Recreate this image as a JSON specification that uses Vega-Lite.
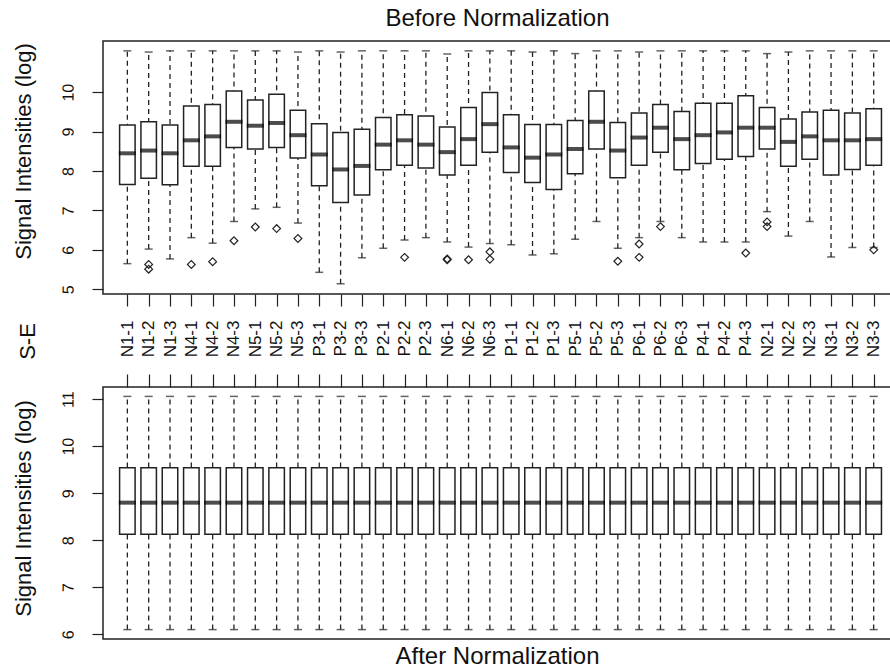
{
  "$schema": "https://vega.github.io/schema/vega-lite/v6.json",
  "background": "white",
  "padding": {"left": 11, "top": 6, "right": 0, "bottom": 0},
  "spacing": 93,
  "bounds": "flush",
  "resolve": {"scale": {"x": "independent", "y": "independent"}, "axis": {"x": "independent", "y": "independent"}},
  "config": {
    "font": "Liberation Sans",
    "view": {"stroke": "#222", "strokeWidth": 1.5},
    "axis": {"grid": false, "domain": false, "tickColor": "#222", "tickWidth": 1.2, "labelColor": "#111", "titleColor": "#111", "labelFont": "Liberation Sans", "titleFont": "Liberation Sans", "titleFontWeight": "normal"},
    "axisY": {"labelAngle": 270.5, "labelAlign": "center", "labelBaseline": "bottom", "labelPadding": 16, "tickSize": 11, "labelFontSize": 16, "titleFontSize": 22, "titleAngle": 270, "titleX": -80, "titleAlign": "center", "titleBaseline": "middle"},
    "title": {"font": "Liberation Sans", "fontWeight": "normal", "fontSize": 24, "color": "#111"}
  },
  "datasets": {
    "before": [
      {"sample": "N1-1", "lo": 5.65, "q1": 7.66, "med": 8.45, "q3": 9.17, "hi": 11.05},
      {"sample": "N1-2", "lo": 6.02, "q1": 7.82, "med": 8.52, "q3": 9.25, "hi": 11.02},
      {"sample": "N1-3", "lo": 5.77, "q1": 7.65, "med": 8.45, "q3": 9.17, "hi": 11.05},
      {"sample": "N4-1", "lo": 6.31, "q1": 8.12, "med": 8.78, "q3": 9.65, "hi": 11.05},
      {"sample": "N4-2", "lo": 6.17, "q1": 8.12, "med": 8.88, "q3": 9.69, "hi": 11.05},
      {"sample": "N4-3", "lo": 6.72, "q1": 8.60, "med": 9.25, "q3": 10.03, "hi": 11.05},
      {"sample": "N5-1", "lo": 7.04, "q1": 8.56, "med": 9.15, "q3": 9.80, "hi": 11.05},
      {"sample": "N5-2", "lo": 7.08, "q1": 8.60, "med": 9.22, "q3": 9.95, "hi": 11.05},
      {"sample": "N5-3", "lo": 6.68, "q1": 8.33, "med": 8.91, "q3": 9.54, "hi": 11.02},
      {"sample": "P3-1", "lo": 5.43, "q1": 7.63, "med": 8.42, "q3": 9.20, "hi": 11.05},
      {"sample": "P3-2", "lo": 5.14, "q1": 7.20, "med": 8.04, "q3": 8.98, "hi": 11.02},
      {"sample": "P3-3", "lo": 5.80, "q1": 7.39, "med": 8.13, "q3": 9.06, "hi": 11.05},
      {"sample": "P2-1", "lo": 6.04, "q1": 8.03, "med": 8.67, "q3": 9.36, "hi": 11.05},
      {"sample": "P2-2", "lo": 6.25, "q1": 8.15, "med": 8.78, "q3": 9.43, "hi": 11.05},
      {"sample": "P2-3", "lo": 6.31, "q1": 8.08, "med": 8.67, "q3": 9.40, "hi": 11.05},
      {"sample": "N6-1", "lo": 6.20, "q1": 7.90, "med": 8.48, "q3": 9.12, "hi": 10.97},
      {"sample": "N6-2", "lo": 6.07, "q1": 8.15, "med": 8.81, "q3": 9.61, "hi": 11.05},
      {"sample": "N6-3", "lo": 6.16, "q1": 8.48, "med": 9.19, "q3": 9.99, "hi": 11.05},
      {"sample": "P1-1", "lo": 6.13, "q1": 7.96, "med": 8.60, "q3": 9.43, "hi": 11.05},
      {"sample": "P1-2", "lo": 5.87, "q1": 7.71, "med": 8.34, "q3": 9.18, "hi": 11.02},
      {"sample": "P1-3", "lo": 5.90, "q1": 7.53, "med": 8.42, "q3": 9.18, "hi": 11.05},
      {"sample": "P5-1", "lo": 6.27, "q1": 7.93, "med": 8.56, "q3": 9.28, "hi": 10.98},
      {"sample": "P5-2", "lo": 6.72, "q1": 8.56, "med": 9.25, "q3": 10.03, "hi": 11.05},
      {"sample": "P5-3", "lo": 6.04, "q1": 7.83, "med": 8.52, "q3": 9.23, "hi": 11.05},
      {"sample": "P6-1", "lo": 6.31, "q1": 8.15, "med": 8.85, "q3": 9.47, "hi": 11.02},
      {"sample": "P6-2", "lo": 6.72, "q1": 8.48, "med": 9.10, "q3": 9.69, "hi": 11.05},
      {"sample": "P6-3", "lo": 6.31, "q1": 8.03, "med": 8.81, "q3": 9.51, "hi": 11.05},
      {"sample": "P4-1", "lo": 6.20, "q1": 8.19, "med": 8.91, "q3": 9.72, "hi": 11.05},
      {"sample": "P4-2", "lo": 6.20, "q1": 8.30, "med": 8.98, "q3": 9.72, "hi": 11.05},
      {"sample": "P4-3", "lo": 6.20, "q1": 8.37, "med": 9.10, "q3": 9.91, "hi": 11.05},
      {"sample": "N2-1", "lo": 6.97, "q1": 8.56, "med": 9.10, "q3": 9.61, "hi": 10.98},
      {"sample": "N2-2", "lo": 6.35, "q1": 8.12, "med": 8.74, "q3": 9.32, "hi": 11.02},
      {"sample": "N2-3", "lo": 6.72, "q1": 8.30, "med": 8.88, "q3": 9.50, "hi": 11.05},
      {"sample": "N3-1", "lo": 5.82, "q1": 7.90, "med": 8.78, "q3": 9.54, "hi": 11.05},
      {"sample": "N3-2", "lo": 6.06, "q1": 8.04, "med": 8.78, "q3": 9.47, "hi": 11.05},
      {"sample": "N3-3", "lo": 6.06, "q1": 8.15, "med": 8.81, "q3": 9.58, "hi": 11.05}
    ],
    "outliers": [
      {"sample": "N1-2", "value": 5.63},
      {"sample": "N1-2", "value": 5.51},
      {"sample": "N4-1", "value": 5.63},
      {"sample": "N4-2", "value": 5.70},
      {"sample": "N4-3", "value": 6.23},
      {"sample": "N5-1", "value": 6.58},
      {"sample": "N5-2", "value": 6.54},
      {"sample": "N5-3", "value": 6.29},
      {"sample": "P2-2", "value": 5.81},
      {"sample": "N6-1", "value": 5.77},
      {"sample": "N6-1", "value": 5.75},
      {"sample": "N6-2", "value": 5.75},
      {"sample": "N6-3", "value": 5.95},
      {"sample": "N6-3", "value": 5.76},
      {"sample": "P5-3", "value": 5.71},
      {"sample": "P6-1", "value": 6.15},
      {"sample": "P6-1", "value": 5.81},
      {"sample": "P6-2", "value": 6.59},
      {"sample": "P4-3", "value": 5.92},
      {"sample": "N2-1", "value": 6.71},
      {"sample": "N2-1", "value": 6.59},
      {"sample": "N3-3", "value": 6.00}
    ],
    "after": [
      {"sample": "N1-1", "lo": 6.10, "q1": 8.13, "med": 8.80, "q3": 9.54, "hi": 11.06},
      {"sample": "N1-2", "lo": 6.10, "q1": 8.13, "med": 8.80, "q3": 9.54, "hi": 11.06},
      {"sample": "N1-3", "lo": 6.10, "q1": 8.13, "med": 8.80, "q3": 9.54, "hi": 11.06},
      {"sample": "N4-1", "lo": 6.10, "q1": 8.13, "med": 8.80, "q3": 9.54, "hi": 11.06},
      {"sample": "N4-2", "lo": 6.10, "q1": 8.13, "med": 8.80, "q3": 9.54, "hi": 11.06},
      {"sample": "N4-3", "lo": 6.10, "q1": 8.13, "med": 8.80, "q3": 9.54, "hi": 11.06},
      {"sample": "N5-1", "lo": 6.10, "q1": 8.13, "med": 8.80, "q3": 9.54, "hi": 11.06},
      {"sample": "N5-2", "lo": 6.10, "q1": 8.13, "med": 8.80, "q3": 9.54, "hi": 11.06},
      {"sample": "N5-3", "lo": 6.10, "q1": 8.13, "med": 8.80, "q3": 9.54, "hi": 11.06},
      {"sample": "P3-1", "lo": 6.10, "q1": 8.13, "med": 8.80, "q3": 9.54, "hi": 11.06},
      {"sample": "P3-2", "lo": 6.10, "q1": 8.13, "med": 8.80, "q3": 9.54, "hi": 11.06},
      {"sample": "P3-3", "lo": 6.10, "q1": 8.13, "med": 8.80, "q3": 9.54, "hi": 11.06},
      {"sample": "P2-1", "lo": 6.10, "q1": 8.13, "med": 8.80, "q3": 9.54, "hi": 11.06},
      {"sample": "P2-2", "lo": 6.10, "q1": 8.13, "med": 8.80, "q3": 9.54, "hi": 11.06},
      {"sample": "P2-3", "lo": 6.10, "q1": 8.13, "med": 8.80, "q3": 9.54, "hi": 11.06},
      {"sample": "N6-1", "lo": 6.10, "q1": 8.13, "med": 8.80, "q3": 9.54, "hi": 11.06},
      {"sample": "N6-2", "lo": 6.10, "q1": 8.13, "med": 8.80, "q3": 9.54, "hi": 11.06},
      {"sample": "N6-3", "lo": 6.10, "q1": 8.13, "med": 8.80, "q3": 9.54, "hi": 11.06},
      {"sample": "P1-1", "lo": 6.10, "q1": 8.13, "med": 8.80, "q3": 9.54, "hi": 11.06},
      {"sample": "P1-2", "lo": 6.10, "q1": 8.13, "med": 8.80, "q3": 9.54, "hi": 11.06},
      {"sample": "P1-3", "lo": 6.10, "q1": 8.13, "med": 8.80, "q3": 9.54, "hi": 11.06},
      {"sample": "P5-1", "lo": 6.10, "q1": 8.13, "med": 8.80, "q3": 9.54, "hi": 11.06},
      {"sample": "P5-2", "lo": 6.10, "q1": 8.13, "med": 8.80, "q3": 9.54, "hi": 11.06},
      {"sample": "P5-3", "lo": 6.10, "q1": 8.13, "med": 8.80, "q3": 9.54, "hi": 11.06},
      {"sample": "P6-1", "lo": 6.10, "q1": 8.13, "med": 8.80, "q3": 9.54, "hi": 11.06},
      {"sample": "P6-2", "lo": 6.10, "q1": 8.13, "med": 8.80, "q3": 9.54, "hi": 11.06},
      {"sample": "P6-3", "lo": 6.10, "q1": 8.13, "med": 8.80, "q3": 9.54, "hi": 11.06},
      {"sample": "P4-1", "lo": 6.10, "q1": 8.13, "med": 8.80, "q3": 9.54, "hi": 11.06},
      {"sample": "P4-2", "lo": 6.10, "q1": 8.13, "med": 8.80, "q3": 9.54, "hi": 11.06},
      {"sample": "P4-3", "lo": 6.10, "q1": 8.13, "med": 8.80, "q3": 9.54, "hi": 11.06},
      {"sample": "N2-1", "lo": 6.10, "q1": 8.13, "med": 8.80, "q3": 9.54, "hi": 11.06},
      {"sample": "N2-2", "lo": 6.10, "q1": 8.13, "med": 8.80, "q3": 9.54, "hi": 11.06},
      {"sample": "N2-3", "lo": 6.10, "q1": 8.13, "med": 8.80, "q3": 9.54, "hi": 11.06},
      {"sample": "N3-1", "lo": 6.10, "q1": 8.13, "med": 8.80, "q3": 9.54, "hi": 11.06},
      {"sample": "N3-2", "lo": 6.10, "q1": 8.13, "med": 8.80, "q3": 9.54, "hi": 11.06},
      {"sample": "N3-3", "lo": 6.10, "q1": 8.13, "med": 8.80, "q3": 9.54, "hi": 11.06}
    ]
  },
  "vconcat": [
    {
      "width": 789,
      "height": 253,
      "title": {"text": "Before Normalization", "offset": 10},
      "encoding": {
        "x": {
          "field": "sample", "type": "nominal", "sort": null,
          "scale": {"type": "point", "padding": 1.784, "align": 0.571,
            "domain": ["N1-1","N1-2","N1-3","N4-1","N4-2","N4-3","N5-1","N5-2","N5-3","P3-1","P3-2","P3-3","P2-1","P2-2","P2-3","N6-1","N6-2","N6-3","P1-1","P1-2","P1-3","P5-1","P5-2","P5-3","P6-1","P6-2","P6-3","P4-1","P4-2","P4-3","N2-1","N2-2","N2-3","N3-1","N3-2","N3-3"]},
          "axis": {"orient": "bottom", "title": "S-E", "labelAngle": 270, "labelAlign": "right", "labelBaseline": "middle", "tickSize": 12, "labelPadding": 14, "labelFontSize": 17, "labelOverlap": false, "titleFontSize": 22, "titleAngle": 270, "titleX": -76, "titleY": 47, "titleAlign": "center", "titleBaseline": "middle"}
        }
      },
      "layer": [
        {
          "data": {"name": "before"},
          "mark": {"type": "rule", "strokeDash": [5, 4], "strokeWidth": 1.3, "color": "#222"},
          "encoding": {
            "y": {"field": "lo", "type": "quantitative", "title": "Signal Intensities (log)",
              "scale": {"domain": [4.88, 11.3], "nice": false, "zero": false},
              "axis": {"values": [5, 6, 7, 8, 9, 10], "labelAngle": 270.5, "titleY": 110}},
            "y2": {"field": "hi"}
          }
        },
        {
          "data": {"name": "before"},
          "mark": {"type": "bar", "fill": "white", "stroke": "#222", "strokeWidth": 1.5, "size": 15.5},
          "encoding": {
            "y": {"field": "q1", "type": "quantitative", "title": "Signal Intensities (log)", "scale": {"domain": [4.88, 11.3], "nice": false, "zero": false},
              "axis": {"values": [5, 6, 7, 8, 9, 10], "labelAngle": 270.5, "titleY": 110}},
            "y2": {"field": "q3"}
          }
        },
        {
          "data": {"name": "before"},
          "mark": {"type": "tick", "color": "#000", "thickness": 4, "size": 17},
          "encoding": {"y": {"field": "med", "type": "quantitative", "title": "Signal Intensities (log)", "scale": {"domain": [4.88, 11.3], "nice": false, "zero": false},
            "axis": {"values": [5, 6, 7, 8, 9, 10], "labelAngle": 270.5, "titleY": 110}}}
        },
        {
          "data": {"name": "before"},
          "mark": {"type": "tick", "color": "#222", "thickness": 1.5, "size": 8},
          "encoding": {"y": {"field": "lo", "type": "quantitative", "title": "Signal Intensities (log)", "scale": {"domain": [4.88, 11.3], "nice": false, "zero": false},
            "axis": {"values": [5, 6, 7, 8, 9, 10], "labelAngle": 270.5, "titleY": 110}}}
        },
        {
          "data": {"name": "before"},
          "mark": {"type": "tick", "color": "#222", "thickness": 1.5, "size": 8},
          "encoding": {"y": {"field": "hi", "type": "quantitative", "title": "Signal Intensities (log)", "scale": {"domain": [4.88, 11.3], "nice": false, "zero": false},
            "axis": {"values": [5, 6, 7, 8, 9, 10], "labelAngle": 270.5, "titleY": 110}}}
        },
        {
          "data": {"name": "outliers"},
          "mark": {"type": "point", "shape": "diamond", "filled": false, "size": 60, "stroke": "#222", "strokeWidth": 1.2, "opacity": 1},
          "encoding": {"y": {"field": "value", "type": "quantitative", "title": "Signal Intensities (log)", "scale": {"domain": [4.88, 11.3], "nice": false, "zero": false},
            "axis": {"values": [5, 6, 7, 8, 9, 10], "labelAngle": 270.5, "titleY": 110}}}
        }
      ]
    },
    {
      "width": 789,
      "height": 252,
      "title": {"text": "After Normalization", "orient": "bottom", "offset": 6},
      "encoding": {
        "x": {
          "field": "sample", "type": "nominal", "sort": null,
          "scale": {"type": "point", "padding": 1.784, "align": 0.571,
            "domain": ["N1-1","N1-2","N1-3","N4-1","N4-2","N4-3","N5-1","N5-2","N5-3","P3-1","P3-2","P3-3","P2-1","P2-2","P2-3","N6-1","N6-2","N6-3","P1-1","P1-2","P1-3","P5-1","P5-2","P5-3","P6-1","P6-2","P6-3","P4-1","P4-2","P4-3","N2-1","N2-2","N2-3","N3-1","N3-2","N3-3"]},
          "axis": {"orient": "top", "title": null, "labels": false, "tickSize": 13}
        }
      },
      "layer": [
        {
          "data": {"name": "after"},
          "mark": {"type": "rule", "strokeDash": [5, 4], "strokeWidth": 1.3, "color": "#222"},
          "encoding": {
            "y": {"field": "lo", "type": "quantitative", "title": "Signal Intensities (log)",
              "scale": {"domain": [5.9, 11.26], "nice": false, "zero": false},
              "axis": {"values": [6, 7, 8, 9, 10, 11], "labelAngle": 270.5, "titleY": 121}},
            "y2": {"field": "hi"}
          }
        },
        {
          "data": {"name": "after"},
          "mark": {"type": "bar", "fill": "white", "stroke": "#222", "strokeWidth": 1.5, "size": 15.5},
          "encoding": {
            "y": {"field": "q1", "type": "quantitative", "title": "Signal Intensities (log)", "scale": {"domain": [5.9, 11.26], "nice": false, "zero": false},
              "axis": {"values": [6, 7, 8, 9, 10, 11], "labelAngle": 270.5, "titleY": 121}},
            "y2": {"field": "q3"}
          }
        },
        {
          "data": {"name": "after"},
          "mark": {"type": "tick", "color": "#000", "thickness": 4, "size": 17},
          "encoding": {"y": {"field": "med", "type": "quantitative", "title": "Signal Intensities (log)", "scale": {"domain": [5.9, 11.26], "nice": false, "zero": false},
            "axis": {"values": [6, 7, 8, 9, 10, 11], "labelAngle": 270.5, "titleY": 121}}}
        },
        {
          "data": {"name": "after"},
          "mark": {"type": "tick", "color": "#222", "thickness": 1.5, "size": 8},
          "encoding": {"y": {"field": "lo", "type": "quantitative", "title": "Signal Intensities (log)", "scale": {"domain": [5.9, 11.26], "nice": false, "zero": false},
            "axis": {"values": [6, 7, 8, 9, 10, 11], "labelAngle": 270.5, "titleY": 121}}}
        },
        {
          "data": {"name": "after"},
          "mark": {"type": "tick", "color": "#222", "thickness": 1.5, "size": 8},
          "encoding": {"y": {"field": "hi", "type": "quantitative", "title": "Signal Intensities (log)", "scale": {"domain": [5.9, 11.26], "nice": false, "zero": false},
            "axis": {"values": [6, 7, 8, 9, 10, 11], "labelAngle": 270.5, "titleY": 121}}}
        }
      ]
    }
  ]
}
